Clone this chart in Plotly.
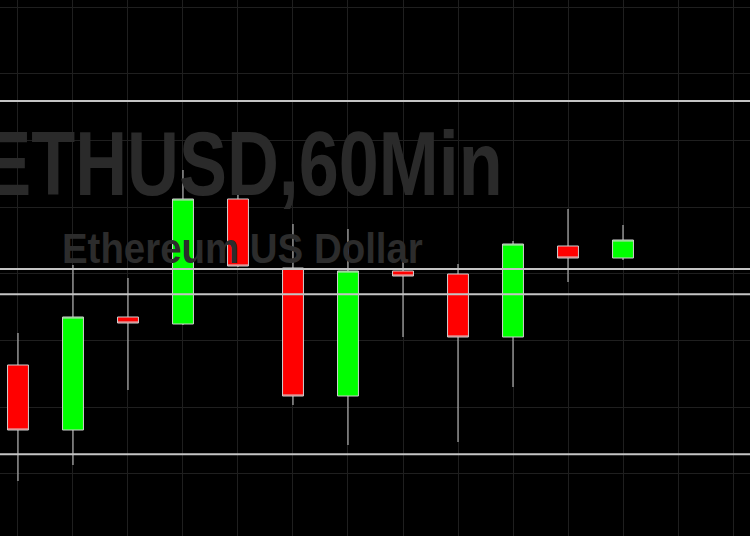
import plotly.graph_objects as go

# ---- data ----
bars = list(range(12))
opens  = [1773.15, 1768.275, 1776.75, 1776.225, 1785.6, 1780.425, 1770.825, 1780.2, 1779.975, 1775.25, 1782.075, 1781.175]
highs  = [1775.55, 1780.65, 1779.675, 1787.775, 1788.525, 1783.725, 1783.35, 1780.875, 1780.725, 1782.45, 1784.85, 1783.65]
lows   = [1764.45, 1765.65, 1771.275, 1776.15, 1780.5, 1770.15, 1767.15, 1775.25, 1767.375, 1771.5, 1779.375, 1781.025]
closes = [1768.275, 1776.75, 1776.3, 1785.6, 1780.575, 1770.825, 1780.2, 1779.825, 1775.25, 1782.225, 1781.175, 1782.525]
levels = [1792.95, 1780.35, 1778.45, 1766.45]
title_main = "ETHUSD,60Min"
title_sub = "Ethereum US Dollar"

fig = go.Figure()

# watermark as text traces (drawn beneath candles)
fig.add_trace(go.Scatter(
    x=[4.09], y=[1787.625], mode="text", text=[title_main],
    textposition="middle center",
    textfont=dict(family="Liberation Sans, Arial, sans-serif",
                  size=91, color="#2a2a2a", weight="bold"),
    hoverinfo="skip", showlegend=False))
fig.add_trace(go.Scatter(
    x=[4.08], y=[1781.6], mode="text", text=[title_sub],
    textposition="middle center",
    textfont=dict(family="Liberation Sans, Arial, sans-serif",
                  size=42, color="#2c2c2c", weight="bold"),
    hoverinfo="skip", showlegend=False))

fig.add_trace(go.Candlestick(
    x=bars, open=opens, high=highs, low=lows, close=closes,
    increasing=dict(fillcolor="#00ff00", line=dict(color="#d0d0d0", width=1)),
    decreasing=dict(fillcolor="#ff0000", line=dict(color="#d0d0d0", width=1)),
    whiskerwidth=0, showlegend=False, hoverinfo="skip"))

for lv in levels:
    fig.add_shape(type="line", xref="paper", x0=0, x1=1, yref="y", y0=lv, y1=lv,
                  line=dict(color="#c4c4c4", width=2))

fig.update_layout(
    width=750, height=536,
    margin=dict(l=0, r=0, t=0, b=0),
    paper_bgcolor="#000000", plot_bgcolor="#000000",
    boxgap=0.62, boxgroupgap=0,
    showlegend=False,
    xaxis=dict(range=[-0.327, 13.309], dtick=1, tick0=0, showgrid=True,
               gridcolor="#1f1f1f", gridwidth=1, zeroline=False,
               showticklabels=False, ticks="", showline=False,
               rangeslider=dict(visible=False), fixedrange=True),
    yaxis=dict(range=[1760.325, 1800.525], dtick=5, tick0=1765, showgrid=True,
               gridcolor="#1f1f1f", gridwidth=1, zeroline=False,
               showticklabels=False, ticks="", showline=False, fixedrange=True),
)

post = """
document.body.style.margin='0';
document.body.style.background='#000';
var gd=document.getElementById('{plot_id}');
function sq(){
  var t=gd.querySelectorAll('.textpoint text');
  var s=[0.79,0.915];
  for(var i=0;i<t.length&&i<s.length;i++){
    t[i].style.transformBox='fill-box';
    t[i].style.transformOrigin='center';
    t[i].style.transform='scaleX('+s[i]+')';
  }
}
sq();
gd.on('plotly_afterplot', sq);
"""

fig.write_html("out.html", config={"displayModeBar": False}, post_script=post)
